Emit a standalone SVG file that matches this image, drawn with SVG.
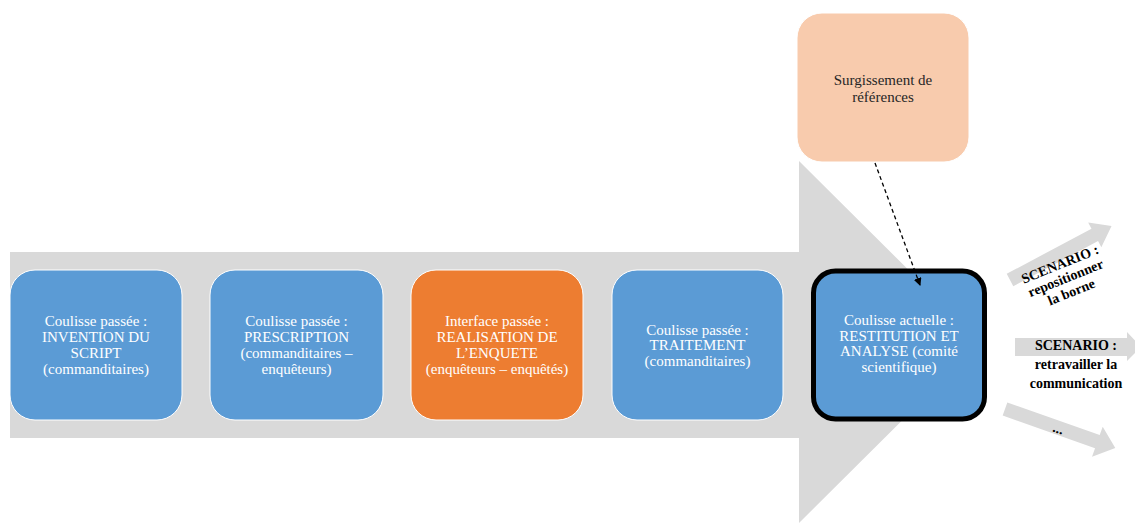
<svg xmlns="http://www.w3.org/2000/svg" width="1135" height="527" viewBox="0 0 1135 527">
<style>
.box{stroke:#ffffff;stroke-width:1}
.blue{fill:#5B9BD5}
.orange{fill:#ED7D31}
.wt{font-family:"Liberation Serif",serif;font-size:15px;fill:#ffffff;text-anchor:middle}
.dt{font-family:"Liberation Serif",serif;font-size:15px;fill:#262626;text-anchor:middle}
.bt{font-family:"Liberation Serif",serif;font-size:14px;font-weight:bold;fill:#000000;text-anchor:middle}
.garrow{fill:#D9D9D9}
</style>
<defs>
<marker id="ah" markerWidth="8" markerHeight="8" refX="7" refY="4" orient="auto" markerUnits="userSpaceOnUse">
<path d="M0,0 L8,4 L0,8 Z" fill="#000"/>
</marker>
</defs>
<rect width="1135" height="527" fill="#ffffff"/>
<g id="big-arrow">
<path class="garrow" d="M10,252 L799,252 L799,161 L981,342 L799,523 L799,438 L10,438 Z"/>
</g>
<g id="node1">
<rect class="box blue" x="10" y="270" width="172" height="150" rx="25"/>
<text class="wt" x="96" y="326">Coulisse passée :</text>
<text class="wt" x="96" y="342">INVENTION DU</text>
<text class="wt" x="96" y="358">SCRIPT</text>
<text class="wt" x="96" y="374">(commanditaires)</text>
</g>
<g id="node2">
<rect class="box blue" x="210" y="270" width="173" height="150" rx="25"/>
<text class="wt" x="296.5" y="326">Coulisse passée :</text>
<text class="wt" x="296.5" y="342">PRESCRIPTION</text>
<text class="wt" x="296.5" y="358">(commanditaires –</text>
<text class="wt" x="296.5" y="374">enquêteurs)</text>
</g>
<g id="node3">
<rect class="box orange" x="411" y="270" width="172" height="150" rx="25"/>
<text class="wt" x="497" y="326">Interface passée :</text>
<text class="wt" x="497" y="342">REALISATION DE</text>
<text class="wt" x="497" y="358">L’ENQUETE</text>
<text class="wt" x="497" y="374">(enquêteurs – enquêtés)</text>
</g>
<g id="node4">
<rect class="box blue" x="612" y="270" width="171" height="150" rx="25"/>
<text class="wt" x="697.5" y="335">Coulisse passée :</text>
<text class="wt" x="697.5" y="350">TRAITEMENT</text>
<text class="wt" x="697.5" y="366">(commanditaires)</text>
</g>
<g id="node5">
<rect class="blue" x="813.5" y="271" width="171" height="148" rx="22" stroke="#000000" stroke-width="5"/>
<text class="wt" x="899" y="325">Coulisse actuelle :</text>
<text class="wt" x="899" y="341">RESTITUTION ET</text>
<text class="wt" x="899" y="356">ANALYSE (comité</text>
<text class="wt" x="899" y="372">scientifique)</text>
</g>
<g id="node-surgissement">
<rect x="797" y="13" width="172" height="149" rx="25" fill="#F8CBAD" stroke="#ffffff" stroke-width="1"/>
<text class="dt" x="883" y="85">Surgissement de</text>
<text class="dt" x="883" y="102">références</text>
</g>
<g id="connectors">
<line x1="875" y1="163" x2="920" y2="285" stroke="#000" stroke-width="1.3" stroke-dasharray="4,3" marker-end="url(#ah)"/>
</g>
<g id="scenario1">
<path class="garrow" transform="translate(1010,280) rotate(-28)" d="M0,-7 L96,-7 L96,-14 L115,0 L96,14 L96,7 L0,7 Z"/>
<g transform="translate(1064,274) rotate(-22)">
<text class="bt" x="0" y="-6">SCENARIO :</text>
<text class="bt" x="0" y="9">repositionner</text>
<text class="bt" x="0" y="24">la borne</text>
</g>
</g>
<g id="scenario2">
<path class="garrow" d="M1015,338 L1127,338 L1127,332 L1141,347 L1127,361 L1127,356 L1015,356 Z"/>
<text class="bt" x="1076" y="350">SCENARIO :</text>
<text class="bt" x="1076" y="369">retravailler la</text>
<text class="bt" x="1076" y="388">communication</text>
</g>
<g id="scenario3">
<path class="garrow" transform="translate(1005,409) rotate(19.5)" d="M0,-7 L98,-7 L98,-16 L117,0 L98,16 L98,7 L0,7 Z"/>
<text class="bt" transform="translate(1057,433) rotate(19.5)" x="0" y="0">...</text>
</g>
</svg>
